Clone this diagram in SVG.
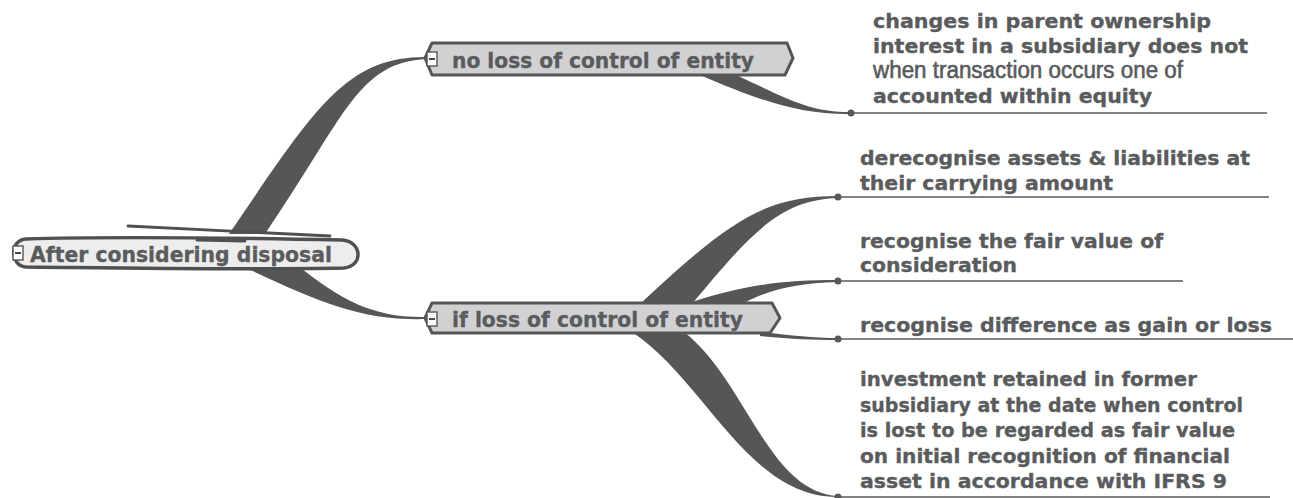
<svg xmlns="http://www.w3.org/2000/svg" width="1293" height="498" viewBox="0 0 1293 498">
  <style>
    .branch { fill: #555658; stroke: none; }
    .leafline { stroke: #58595b; stroke-width: 1.6; fill: none; }
    .dot { fill: #58595b; }
    .topic { fill: #d1d1d3; stroke: #555658; stroke-width: 3; stroke-linejoin: round; }
    .root { fill: #ededed; stroke: #4f5052; stroke-width: 3.4; stroke-linejoin: round; }
    .label { font-family: "DejaVu Sans", Verdana, sans-serif; font-weight: bold; fill: #5a5b5d; stroke: #5a5b5d; stroke-width: 0.35; }
    .big { font-size: 21px; }
    .small { font-size: 20px; }
    .narrow { font-family: "Liberation Sans", Arial, sans-serif; font-weight: normal; font-size: 23px; fill: #5a5b5d; stroke: #5a5b5d; stroke-width: 0.6; }
    .toggle { fill: #ffffff; stroke: #555658; stroke-width: 1.4; }
    .minus { stroke: #333333; stroke-width: 1.8; }
  </style>

  <!-- tapered branches -->
  <g id="connectors">
    <!-- root to "no loss" -->
    <path class="branch" d="M229,234 C314,110 345,56 427,57 L427,59 C358,62 346,115 265,234 Z"/>
    <!-- root to "if loss" -->
    <path class="branch" d="M298,266 C342,300 372,318 427,317 L427,319 C362,321 318,302 242,266 Z"/>
    <!-- "no loss" to leaf -->
    <path class="branch" d="M736,75 C790,100 810,112 851,112 L851,114 C800,115 758,100 700,75 Z"/>
    <!-- "if loss" to leaves -->
    <path class="branch" d="M640,304 C730,220 765,196 838,196 L838,198 C780,200 752,232 692,304 Z"/>
    <path class="branch" d="M686,304 C742,285 782,280 838,280 L838,282 C792,283 764,292 742,304 Z"/>
    <path class="branch" d="M760,332 C792,335 812,338 838,338 L838,340 C812,340 792,339 760,336 Z"/>
    <path class="branch" d="M632,332 C705,380 748,498 838,497 L838,496 C768,492 746,380 684,332 Z"/>

    <!-- leaf underlines and joints -->
    <line class="leafline" x1="851" y1="113" x2="1267" y2="113"/>
    <circle class="dot" cx="851" cy="113" r="3.5"/>
    <line class="leafline" x1="838" y1="197" x2="1269" y2="197"/>
    <circle class="dot" cx="838" cy="197" r="3.5"/>
    <line class="leafline" x1="838" y1="281" x2="1183" y2="281"/>
    <circle class="dot" cx="838" cy="281" r="3.5"/>
    <line class="leafline" x1="838" y1="339" x2="1293" y2="339"/>
    <circle class="dot" cx="838" cy="339" r="3.5"/>
    <line class="leafline" x1="838" y1="497" x2="1270" y2="497"/>
    <circle class="dot" cx="838" cy="497" r="3.5"/>
  </g>

  <!-- central topic, sketchy outline -->
  <g id="root">
    <path class="root" d="M26,239 C120,236 240,238 342,240 C362,241 364,266 344,268 C240,270 120,268 26,267 C10,266 9,240 26,239 Z"/>
    <path d="M128,226 C180,228 240,231 330,236" fill="none" stroke="#4f5052" stroke-width="2.8" stroke-linecap="round"/>
    <path d="M197,240 L245,241" fill="none" stroke="#4f5052" stroke-width="3" stroke-linecap="round"/>
    <rect class="toggle" x="13" y="246" width="10" height="14"/>
    <line class="minus" x1="15" y1="253" x2="21" y2="253"/>
    <text class="label big" x="30" y="262" textLength="302" lengthAdjust="spacingAndGlyphs">After considering disposal</text>
  </g>

  <g id="no-loss">
    <polygon class="topic" points="432,43 787,43 793,58 785,75 432,75 425,58"/>
    <rect class="toggle" x="427" y="52" width="10" height="14"/>
    <line class="minus" x1="429" y1="59" x2="435" y2="59"/>
    <text class="label big" x="452" y="68" textLength="302" lengthAdjust="spacingAndGlyphs">no loss of control of entity</text>
  </g>

  <g id="if-loss">
    <polygon class="topic" points="432,303 772,303 780,318 770,333 432,333 425,318"/>
    <rect class="toggle" x="427" y="312" width="10" height="14"/>
    <line class="minus" x1="429" y1="319" x2="435" y2="319"/>
    <text class="label big" x="452" y="327" textLength="291" lengthAdjust="spacingAndGlyphs">if loss of control of entity</text>
  </g>

  <g id="leaf-equity">
    <text class="label small" x="873" y="28" textLength="338" lengthAdjust="spacingAndGlyphs">changes in parent ownership</text>
    <text class="label small" x="873" y="53" textLength="375" lengthAdjust="spacingAndGlyphs">interest in a subsidiary does not</text>
    <text class="narrow" x="873" y="78" textLength="310" lengthAdjust="spacingAndGlyphs">when transaction occurs one of</text>
    <text class="label small" x="873" y="103" textLength="279" lengthAdjust="spacingAndGlyphs">accounted within equity</text>
  </g>

  <g id="leaf-derecognise">
    <text class="label small" x="860" y="165" textLength="390" lengthAdjust="spacingAndGlyphs">derecognise assets &amp; liabilities at</text>
    <text class="label small" x="860" y="190" textLength="253" lengthAdjust="spacingAndGlyphs">their carrying amount</text>
  </g>

  <g id="leaf-consideration">
    <text class="label small" x="860" y="248" textLength="303" lengthAdjust="spacingAndGlyphs">recognise the fair value of</text>
    <text class="label small" x="860" y="272" textLength="157" lengthAdjust="spacingAndGlyphs">consideration</text>
  </g>

  <g id="leaf-difference">
    <text class="label small" x="860" y="332" textLength="412" lengthAdjust="spacingAndGlyphs">recognise difference as gain or loss</text>
  </g>

  <g id="leaf-retained">
    <text class="label small" x="860" y="386" textLength="337" lengthAdjust="spacingAndGlyphs">investment retained in former</text>
    <text class="label small" x="860" y="412" textLength="383" lengthAdjust="spacingAndGlyphs">subsidiary at the date when control</text>
    <text class="label small" x="860" y="437" textLength="375" lengthAdjust="spacingAndGlyphs">is lost to be regarded as fair value</text>
    <text class="label small" x="860" y="463" textLength="370" lengthAdjust="spacingAndGlyphs">on initial recognition of financial</text>
    <text class="label small" x="860" y="488" textLength="367" lengthAdjust="spacingAndGlyphs">asset in accordance with IFRS 9</text>
  </g>
</svg>
